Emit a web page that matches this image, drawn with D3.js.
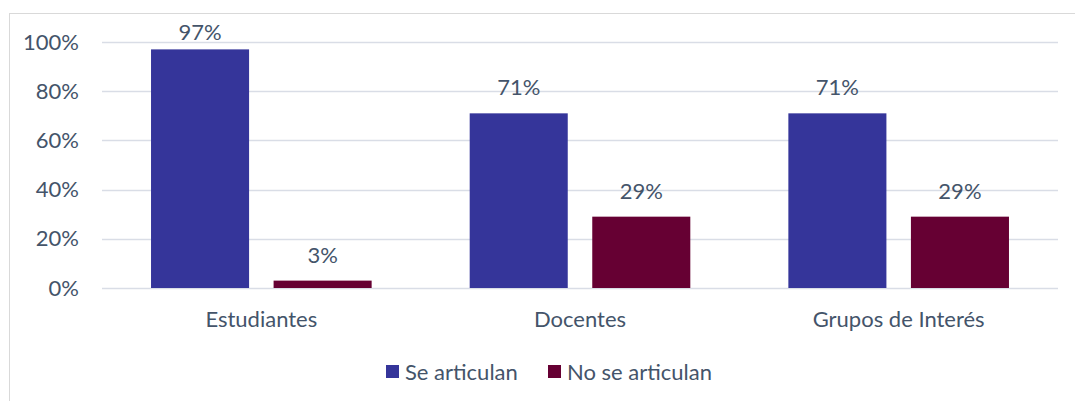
<!DOCTYPE html>
<html>
<head>
<meta charset="utf-8">
<script src="https://cdn.jsdelivr.net/npm/d3@7"></script>
<style>
  body { margin: 0; background: #fff; }
  text { font-family: Lato, "Open Sans", sans-serif; fill: #44546a; }
</style>
</head>
<body>
<svg id="chart" width="1075" height="401"></svg>
<script>
// data
var categories = ["Estudiantes", "Docentes", "Grupos de Interés"];
var series = ["Se articulan", "No se articulan"];
var seArticulan = [97, 71, 71];
var noSeArticulan = [3, 29, 29];
var yTicks = [0, 20, 40, 60, 80, 100];

var colors = ["#35359a", "#660033"];
var fontSize = "22px";

var svg = d3.select("#chart"),
    margin = { top: 42, right: 17, bottom: 113, left: 102 },
    width = 1075 - margin.left - margin.right,
    height = 401 - margin.top - margin.bottom;

// chart frame
svg.append("rect")
    .attr("x", 9.5).attr("y", 13.5)
    .attr("width", 1080).attr("height", 400)
    .attr("fill", "none")
    .attr("stroke", "#d9d9d9");

var g = svg.append("g").attr("transform", "translate(" + margin.left + "," + margin.top + ")");

var x0 = d3.scaleBand().domain(categories).range([0, width]);
var x1 = d3.scaleBand().domain(series).range([0, x0.bandwidth()]).paddingInner(0.2).paddingOuter(0.4);
var y = d3.scaleLinear().domain([0, 100]).range([height, 0]);

// gridlines
g.selectAll(".grid")
    .data(yTicks).enter()
    .append("line")
    .attr("x1", 0).attr("x2", width)
    .attr("y1", function (d) { return Math.round(y(d)) + 0.5; })
    .attr("y2", function (d) { return Math.round(y(d)) + 0.5; })
    .attr("stroke", "#d9dde6")
    .attr("stroke-width", 1.5);

// y axis labels
var yAxis = g.append("g").call(d3.axisLeft(y).tickValues(yTicks).tickSize(0).tickPadding(23).tickFormat(function (d) { return d + "%"; }));
yAxis.select(".domain").remove();
yAxis.selectAll("text").style("font-size", fontSize).attr("fill", "#44546a");

var rows = categories.map(function (c, i) {
    return { cat: c, vals: [seArticulan[i], noSeArticulan[i]] };
});

var groups = g.selectAll(".grp")
    .data(rows).enter()
    .append("g")
    .attr("transform", function (d) { return "translate(" + x0(d.cat) + ",0)"; });

groups.selectAll("rect")
    .data(function (d) { return d.vals.map(function (v, j) { return { s: series[j], v: v, j: j }; }); })
    .enter().append("rect")
    .attr("x", function (d) { return x1(d.s); })
    .attr("y", function (d) { return y(d.v); })
    .attr("width", x1.bandwidth())
    .attr("height", function (d) { return height - y(d.v); })
    .attr("fill", function (d) { return colors[d.j]; });

// value labels, pushed down to stay inside the plot near the top
groups.selectAll(".lbl")
    .data(function (d) { return d.vals.map(function (v, j) { return { s: series[j], v: v }; }); })
    .enter().append("text")
    .attr("x", function (d) { return x1(d.s) + x1.bandwidth() / 2; })
    .attr("y", function (d) { return Math.max(y(d.v) - 18, y(100) - 2); })
    .attr("text-anchor", "middle")
    .style("font-size", fontSize)
    .text(function (d) { return d.v + "%"; });

// category labels
var xAxis = g.append("g").attr("transform", "translate(0," + height + ")")
    .call(d3.axisBottom(x0).tickSize(0).tickPadding(23));
xAxis.select(".domain").remove();
xAxis.selectAll("text").style("font-size", fontSize).attr("fill", "#44546a");

// legend
var legend = svg.append("g").attr("transform", "translate(386,364)");
var legX = [0, 162];
series.forEach(function (s, i) {
    var lg = legend.append("g").attr("transform", "translate(" + legX[i] + ",0)");
    lg.append("rect").attr("width", 13).attr("height", 13).attr("y", 1).attr("fill", colors[i]);
    lg.append("text").attr("x", 19).attr("y", 15.5).style("font-size", fontSize).text(s);
});
</script>
</body>
</html>
